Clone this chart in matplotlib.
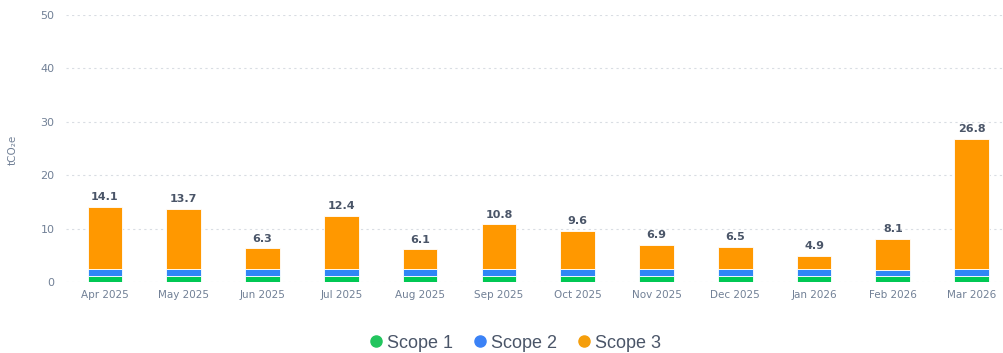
import matplotlib
matplotlib.use("Agg")
import matplotlib.pyplot as plt
import numpy as np

months = ["Apr 2025", "May 2025", "Jun 2025", "Jul 2025", "Aug 2025", "Sep 2025",
          "Oct 2025", "Nov 2025", "Dec 2025", "Jan 2026", "Feb 2026", "Mar 2026"]
scope1 = [1.2, 1.2, 1.2, 1.2, 1.2, 1.2, 1.2, 1.2, 1.2, 1.2, 1.1, 1.2]
scope2 = [1.2, 1.3, 1.2, 1.3, 1.2, 1.2, 1.2, 1.2, 1.2, 1.2, 1.1, 1.3]
totals = [14.1, 13.7, 6.3, 12.4, 6.1, 10.8, 9.6, 6.9, 6.5, 4.9, 8.1, 26.8]
scope3 = [t - a - b for t, a, b in zip(totals, scope1, scope2)]
yticks = [0, 10, 20, 30, 40, 50]

c1, c2, c3 = "#00c853", "#2f86f6", "#ff9800"
tick_col = "#718096"
lab_col = "#4a5568"

fig = plt.figure(figsize=(10.04, 3.53), dpi=100)
W, H = 1004, 353
ax = fig.add_axes([65.6 / W, 71 / H, (1011 - 65.6) / W, 267 / H])
x = np.arange(len(months))
bw = 0.44
s1 = np.array(scope1); s2 = np.array(scope2); s3 = np.array(scope3)
ax.bar(x, s1, bw, color=c1, edgecolor="white", linewidth=0.6, zorder=3)
ax.bar(x, s2, bw, bottom=s1, color=c2, edgecolor="white", linewidth=0.6, zorder=3)
ax.bar(x, s3, bw, bottom=s1 + s2, color=c3, edgecolor="white", linewidth=0.6, zorder=3)
for xi, t in zip(x, totals):
    ax.text(xi, t + 0.9, f"{t:.1f}", ha="center", va="bottom", fontsize=8,
            fontweight="bold", color=lab_col)

ax.set_xlim(-0.5, 11.5)
ax.set_ylim(0, 50)
ax.set_yticks(yticks)
ax.set_xticks(x)
ax.set_xticklabels(months)
ax.tick_params(axis="both", length=0, labelsize=7.5, colors=tick_col)
ax.tick_params(axis="y", pad=8, labelsize=8)
ax.tick_params(axis="x", pad=6)
for s in ax.spines.values():
    s.set_visible(False)
ax.grid(axis="y", color="#d9dde3", linestyle=(0, (2, 3)), linewidth=0.8, zorder=0)
ax.set_axisbelow(True)
fig.text(13 / W, 1 - 150 / H, "tCO₂e", rotation=90, ha="center", va="center",
         fontsize=7.5, color=tick_col)

from matplotlib.lines import Line2D
handles = [Line2D([], [], marker="o", linestyle="", markersize=8, color=c)
           for c in ["#22c55e", "#3b82f6", "#f59e0b"]]
fig.legend(handles, ["Scope 1", "Scope 2", "Scope 3"], loc="center",
           bbox_to_anchor=(514 / W, 1 - 343 / H), ncol=3, frameon=False,
           handletextpad=0.1, columnspacing=1.0, handlelength=1.0,
           prop={"family": "Liberation Sans", "size": 13}, labelcolor="#4a5568")

fig.savefig("out.png", dpi=100)
